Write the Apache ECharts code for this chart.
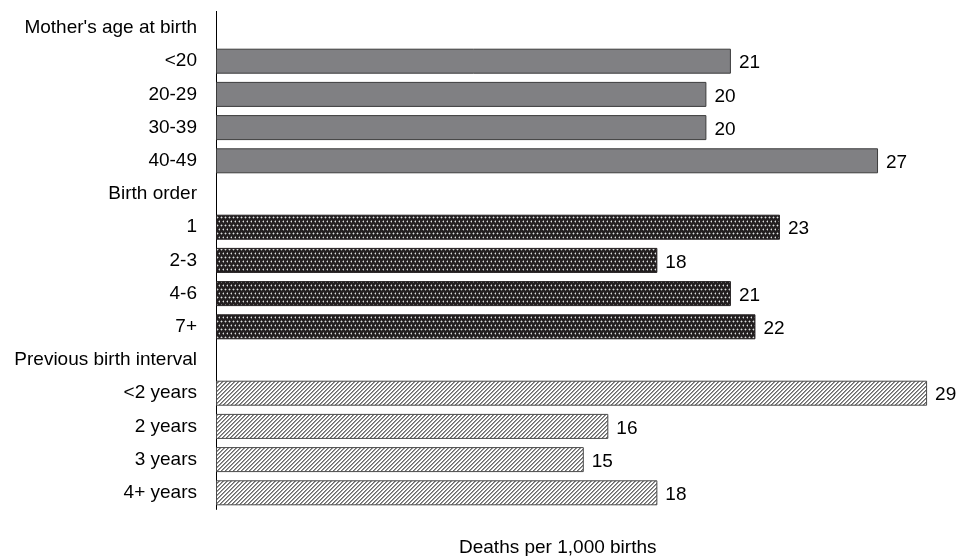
<!DOCTYPE html>
<html>
<head>
<meta charset="utf-8">
<script src="https://cdn.jsdelivr.net/npm/echarts@6/dist/echarts.min.js"></script>
<style>
  html, body { margin: 0; padding: 0; background: #fff; }
  #chart { width: 959px; height: 556px; }
</style>
</head>
<body>
<div id="chart"></div>
<script>
// Section headings and their rows (deaths per 1,000 births)
const groupTitles = ["Mother's age at birth", "Birth order", "Previous birth interval"];
const ageLabels = ["<20", "20-29", "30-39", "40-49"];
const ageValues = [21, 20, 20, 27];
const orderLabels = ["1", "2-3", "4-6", "7+"];
const orderValues = [23, 18, 21, 22];
const intervalLabels = ["<2 years", "2 years", "3 years", "4+ years"];
const intervalValues = [29, 16, 15, 18];
const axisTitle = "Deaths per 1,000 births";

// Fill patterns for each section
function dotPattern() {
  const c = document.createElement('canvas');
  c.width = 4; c.height = 8;
  const g = c.getContext('2d');
  g.fillStyle = '#231f20';
  g.fillRect(0, 0, 4, 8);
  // staggered light dots with a soft halo
  const dots = [[1, 1], [3, 5]];
  dots.forEach(([x, y]) => {
    g.fillStyle = '#6a6a6a';
    g.fillRect(x - 1, y, 3, 1);
    g.fillRect(x, y - 1, 1, 3);
    g.fillStyle = '#e0e0e0';
    g.fillRect(x, y, 1, 1);
  });
  return c;
}
function hatchPattern() {
  const c = document.createElement('canvas');
  c.width = 4; c.height = 4;
  const g = c.getContext('2d');
  g.fillStyle = '#ffffff';
  g.fillRect(0, 0, 4, 4);
  for (let y = 0; y < 4; y++) {
    for (let x = 0; x < 4; x++) {
      const k = (x + y) % 4;
      if (k === 3) { g.fillStyle = '#6a6a6a'; g.fillRect(x, y, 1, 1); }
      else if (k === 0) { g.fillStyle = '#9a9a9a'; g.fillRect(x, y, 1, 1); }
    }
  }
  return c;
}

const groupStyles = [
  { color: '#808083', borderColor: '#3c3c3c', borderWidth: 1 },
  { color: { image: dotPattern(), repeat: 'repeat' }, borderColor: '#231f20', borderWidth: 1 },
  { color: { image: hatchPattern(), repeat: 'repeat' }, borderColor: '#4a4a4a', borderWidth: 1 }
];

const groups = [
  [ageLabels, ageValues],
  [orderLabels, orderValues],
  [intervalLabels, intervalValues]
];

const categories = [];
const seriesData = [];
groups.forEach(([labels, values], gi) => {
  categories.push(groupTitles[gi]);
  seriesData.push('-');
  labels.forEach((lab, i) => {
    categories.push(lab);
    seriesData.push({ value: values[i], itemStyle: groupStyles[gi] });
  });
});

const chart = echarts.init(document.getElementById('chart'), null, { renderer: 'canvas' });
chart.setOption({
  animation: false,
  backgroundColor: '#ffffff',
  textStyle: { fontFamily: 'Liberation Sans, Arial, sans-serif' },
  grid: { left: 216, right: 7.4, top: 11.4, height: 498, containLabel: false },
  xAxis: {
    type: 'value',
    min: 0,
    max: 30,
    show: false
  },
  yAxis: {
    type: 'category',
    data: categories,
    inverse: true,
    axisLine: { show: true, lineStyle: { color: '#000', width: 1 } },
    axisTick: { show: false },
    axisLabel: {
      color: '#000',
      fontSize: 19,
      margin: 19,
      fontFamily: 'Liberation Sans, Arial, sans-serif'
    }
  },
  series: [{
    type: 'bar',
    data: seriesData,
    barWidth: 25,
    label: {
      show: true,
      position: 'right',
      distance: 8,
      offset: [0, 2],
      color: '#000',
      fontSize: 19,
      fontFamily: 'Liberation Sans, Arial, sans-serif'
    }
  }],
  graphic: [{
    type: 'text',
    left: 459,
    top: 538,
    style: {
      text: axisTitle,
      fill: '#000',
      fontSize: 19,
      fontFamily: 'Liberation Sans, Arial, sans-serif'
    }
  }]
});
</script>
</body>
</html>
